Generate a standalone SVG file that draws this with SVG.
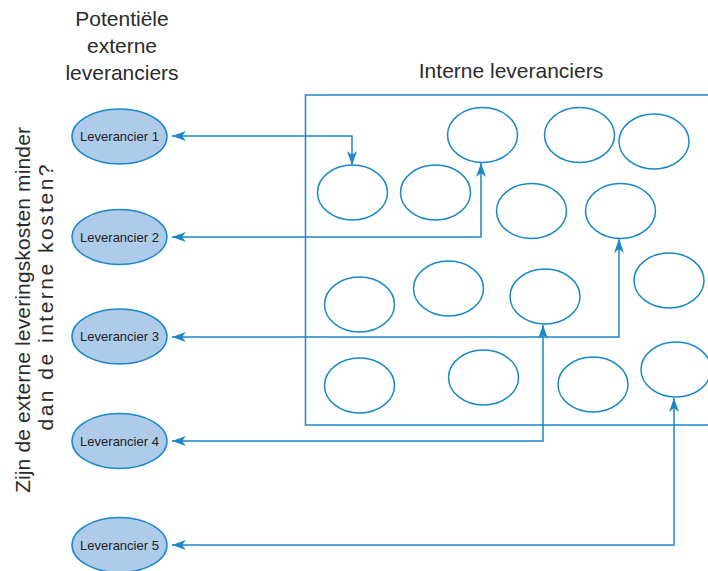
<svg xmlns="http://www.w3.org/2000/svg" width="708" height="571" viewBox="0 0 708 571">
<style>
.lbl{font-family:"Liberation Sans",Arial,sans-serif;font-size:21px;fill:#2b2b2b}
.sup{fill:#aecbe9;stroke:#1a88c8;stroke-width:1.5}
.sl{font-family:"Liberation Sans",Arial,sans-serif;font-size:13px;fill:#222;text-anchor:middle}
.int{fill:#fff;stroke:#1a88c8;stroke-width:1.5}
.con{fill:none;stroke:#1a88c8;stroke-width:1.5;marker-start:url(#ah);marker-end:url(#ah)}
</style>
<defs>
<marker id="ah" viewBox="0 0 14 10" refX="14" refY="5" markerWidth="14" markerHeight="10" markerUnits="userSpaceOnUse" orient="auto-start-reverse">
<path d="M0,0 L14,5 L0,10 L4,5 z" fill="#1a88c8"/>
</marker>
</defs>
<rect width="708" height="571" fill="#fff"/>
<g id="titles">
<text class="lbl" text-anchor="middle"><tspan x="122" y="26">Potentiële</tspan><tspan x="122" y="53">externe</tspan><tspan x="122" y="80">leveranciers</tspan></text>
<text class="lbl" x="511" y="78" text-anchor="middle">Interne leveranciers</text>
<text class="lbl" transform="rotate(-90)" x="-310" y="30" text-anchor="middle" textLength="366" lengthAdjust="spacing">Zijn de externe leveringskosten minder</text>
<text class="lbl" transform="rotate(-90)" x="-297.5" y="53" text-anchor="middle" textLength="266" lengthAdjust="spacing">dan de interne kosten?</text>
</g>
<g id="box">
<rect x="305.5" y="95" width="420" height="330" fill="none" stroke="#1a88c8" stroke-width="1.5"/>
</g>
<g id="internal">
<ellipse class="int" cx="352.5" cy="192.5" rx="35" ry="27.5"/>
<ellipse class="int" cx="435.5" cy="192.5" rx="35" ry="27.5"/>
<ellipse class="int" cx="482.5" cy="135" rx="35" ry="27.5"/>
<ellipse class="int" cx="579.5" cy="135" rx="35" ry="27.5"/>
<ellipse class="int" cx="654" cy="141.5" rx="35" ry="27.5"/>
<ellipse class="int" cx="531.5" cy="211" rx="35" ry="27.5"/>
<ellipse class="int" cx="620.5" cy="211" rx="35" ry="27.5"/>
<ellipse class="int" cx="669" cy="280.5" rx="35" ry="27.5"/>
<ellipse class="int" cx="359.5" cy="304.5" rx="35" ry="27.5"/>
<ellipse class="int" cx="448.5" cy="288.5" rx="35" ry="27.5"/>
<ellipse class="int" cx="545" cy="296.5" rx="35" ry="27.5"/>
<ellipse class="int" cx="359.5" cy="385.5" rx="35" ry="27.5"/>
<ellipse class="int" cx="483.5" cy="377.5" rx="35" ry="27.5"/>
<ellipse class="int" cx="593" cy="384.5" rx="35" ry="27.5"/>
<ellipse class="int" cx="676" cy="369.5" rx="35" ry="27.5"/>
</g>
<g id="connectors">
<path class="con" d="M172,136 H352 V165"/>
<path class="con" d="M172,237 H481 V163"/>
<path class="con" d="M172,337 H619 V239"/>
<path class="con" d="M172,441 H543 V325"/>
<path class="con" d="M172,545 H674 V398"/>
</g>
<g id="lev1"><ellipse class="sup" cx="119.5" cy="136.5" rx="47.5" ry="27.5"/><text class="sl" x="119.5" y="141">Leverancier 1</text></g>
<g id="lev2"><ellipse class="sup" cx="119.5" cy="237" rx="47.5" ry="27.5"/><text class="sl" x="119.5" y="241.5">Leverancier 2</text></g>
<g id="lev3"><ellipse class="sup" cx="119.5" cy="336.5" rx="47.5" ry="27.5"/><text class="sl" x="119.5" y="341">Leverancier 3</text></g>
<g id="lev4"><ellipse class="sup" cx="119.5" cy="441" rx="47.5" ry="27.5"/><text class="sl" x="119.5" y="445.5">Leverancier 4</text></g>
<g id="lev5"><ellipse class="sup" cx="119.5" cy="545" rx="47.5" ry="27.5"/><text class="sl" x="119.5" y="549.5">Leverancier 5</text></g>
</svg>
